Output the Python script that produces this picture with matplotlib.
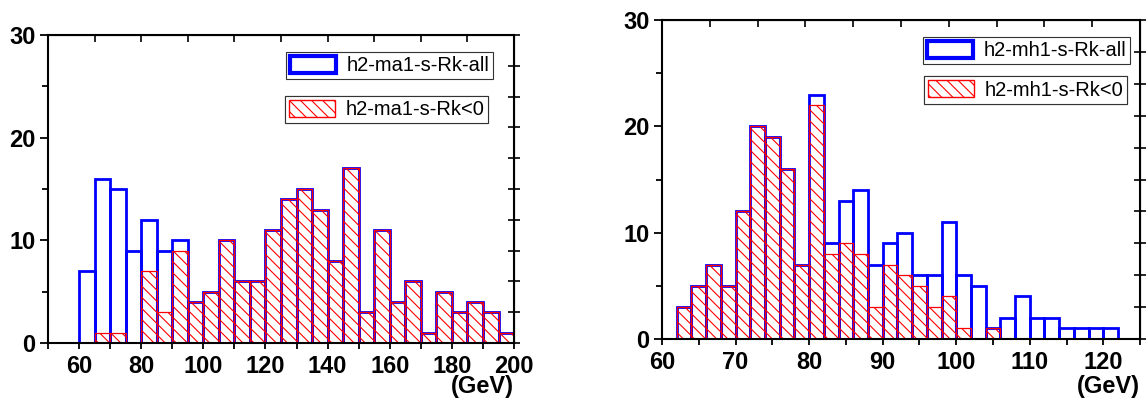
import numpy as np
import matplotlib
matplotlib.use("Agg")
import matplotlib.pyplot as plt
from matplotlib.patches import Patch

plt.rcParams['font.family'] = ['Liberation Sans', 'DejaVu Sans']
plt.rcParams['hatch.linewidth'] = 0.8

# left panel: h2 - ma1, 5 GeV bins from 60 to 200
ma1_edges = np.arange(60, 201, 5)
ma1_all = [7, 16, 15, 9, 12, 9, 10, 4, 5, 10, 6, 6, 11, 14, 15, 13, 8, 17,
           3, 11, 4, 6, 1, 5, 3, 4, 3, 1]
ma1_neg = [0, 1, 1, 0, 7, 3, 9, 4, 5, 10, 6, 6, 11, 14, 15, 13, 8, 17,
           3, 11, 4, 6, 1, 5, 3, 4, 3, 1]
ma1_labels = ["h2-ma1-s-Rk-all", "h2-ma1-s-Rk<0"]

# right panel: h2 - mh1, 2 GeV bins from 62 to 122
mh1_edges = np.arange(62, 123, 2)
mh1_all = [3, 5, 7, 5, 12, 20, 19, 16, 7, 23, 9, 13, 14, 7, 9, 10, 6, 6, 11,
           6, 5, 1, 2, 4, 2, 2, 1, 1, 1, 1]
mh1_neg = [3, 5, 7, 5, 12, 20, 19, 16, 7, 22, 8, 9, 8, 3, 7, 6, 5, 3, 4,
           1, 0, 1, 0, 0, 0, 0, 0, 0, 0, 0]
mh1_labels = ["h2-mh1-s-Rk-all", "h2-mh1-s-Rk<0"]

HATCH = '\\\\\\'


def draw_panel(ax, edges, all_vals, neg_vals, labels, xlim, major, minor,
               leg_pos, gev_y):
    w = edges[1] - edges[0]
    left = edges[:-1]
    all_vals = np.array(all_vals)
    neg_vals = np.array(neg_vals)

    m = all_vals > 0
    ax.bar(left[m], all_vals[m], width=w, align='edge', facecolor='none',
           edgecolor='blue', linewidth=2.0)
    m = neg_vals > 0
    ax.bar(left[m], neg_vals[m], width=w, align='edge', facecolor='none',
           edgecolor='red', linewidth=0.9, hatch=HATCH)

    ax.set_xlim(*xlim)
    ax.set_ylim(0, 30)
    ax.set_xticks(np.arange(major[0], xlim[1] + 0.1, major[1]))
    ax.set_xticks(np.arange(minor[0], xlim[1] + 0.1, minor[1]), minor=True)
    ax.set_yticks([0, 10, 20, 30])
    ax.set_yticks([5, 15, 25], minor=True)
    ax.tick_params(which='major', direction='out', length=6, width=1.3,
                   labelsize=17, pad=3)
    ax.tick_params(which='minor', direction='out', length=4, width=1.3)
    ax.tick_params(axis='x', which='both', length=4, pad=5)
    for lab in ax.get_xticklabels() + ax.get_yticklabels():
        lab.set_fontweight('bold')
    for sp in ax.spines.values():
        sp.set_linewidth(1.5)

    # opposite axes: 10 unlabelled divisions, Origin style
    top = ax.secondary_xaxis('top')
    top.set_xticks(np.linspace(xlim[0], xlim[1], 11))
    top.tick_params(direction='in', length=5, width=1.2, labeltop=False)
    right = ax.secondary_yaxis('right')
    right.set_yticks(np.linspace(0, 30, 11))
    right.tick_params(direction='inout', length=8, width=1.2, labelright=False)

    ax.text(1.0, gev_y, "(GeV)", transform=ax.transAxes, ha='right',
            va='bottom', fontsize=17, fontweight='bold')

    h_all = Patch(facecolor='white', edgecolor='blue', linewidth=3)
    h_neg = Patch(facecolor='white', edgecolor='red', linewidth=1, hatch=HATCH)
    for h, lab, pos in zip([h_all, h_neg], labels, leg_pos):
        leg = ax.legend([h], [lab], loc='upper right', bbox_to_anchor=pos,
                        fontsize=14.5, fancybox=False, framealpha=1,
                        edgecolor='#333333', handlelength=2.3,
                        handleheight=0.9, borderpad=0.2, handletextpad=0.5,
                        borderaxespad=0.0)
        leg.get_frame().set_linewidth(0.8)
        ax.add_artist(leg)


def main():
    fig = plt.figure(figsize=(11.48, 4.03), dpi=100)
    ax1 = fig.add_axes([0.0418, 0.149, 0.406, 0.764])
    ax2 = fig.add_axes([0.5767, 0.159, 0.4164, 0.791])

    draw_panel(ax1, ma1_edges, ma1_all, ma1_neg, ma1_labels, (50, 200),
               (60, 20), (50, 20), [(0.955, 0.945), (0.945, 0.802)], -0.18)
    draw_panel(ax2, mh1_edges, mh1_all, mh1_neg, mh1_labels, (60, 125),
               (60, 10), (65, 10), [(0.979, 0.947), (0.973, 0.824)], -0.185)

    fig.savefig("out.png", dpi=100)


if __name__ == "__main__":
    main()
